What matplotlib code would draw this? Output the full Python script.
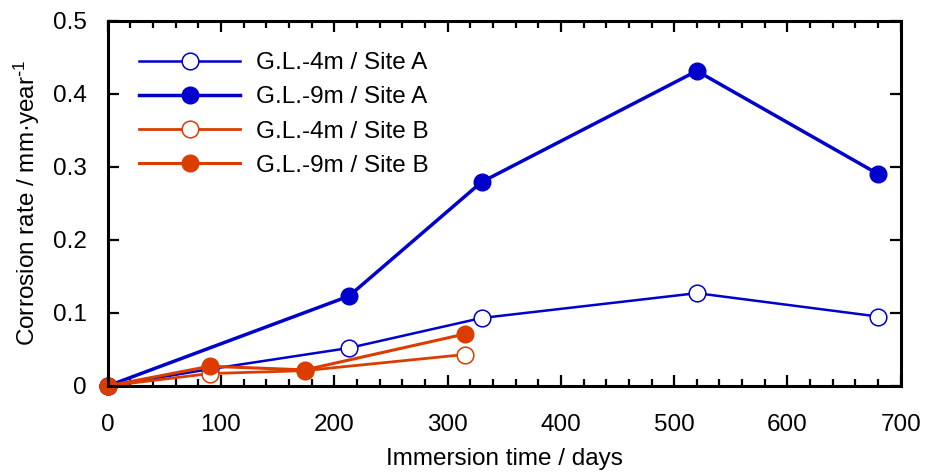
import matplotlib.pyplot as plt
from matplotlib.ticker import MultipleLocator
import numpy as np

plt.rcParams['font.family'] = ['Liberation Sans', 'DejaVu Sans']
plt.rcParams['mathtext.default'] = 'regular'

# immersion time (days) and corrosion rate (mm/year)
days_a = [0, 90, 213, 330, 520, 680]
rate_a_4m = [0, 0.023, 0.052, 0.093, 0.127, 0.095]
days_a9 = [0, 213, 330, 520, 680]
rate_a_9m = [0, 0.123, 0.279, 0.431, 0.290]

days_b = [0, 90, 174, 315]
rate_b_4m = [0, 0.017, 0.021, 0.043]
rate_b_9m = [0, 0.027, 0.022, 0.071]

blue = '#0000CC'
orange = '#DB3D00'
fs = 17.5

fig = plt.figure(figsize=(9.25, 4.75), dpi=100)
ax = fig.add_axes([0.1164, 0.1874, 0.8574, 0.7694])

ax.plot(days_a, rate_a_4m, '-o', color=blue, lw=1.8, ms=12,
        mfc='white', mec=blue, mew=1.1, label='G.L.-4m / Site A', clip_on=False)
ax.plot(days_a9, rate_a_9m, '-o', color=blue, lw=2.5, ms=12,
        mfc=blue, mec=blue, label='G.L.-9m / Site A', clip_on=False)
ax.plot(days_b, rate_b_4m, '-o', color=orange, lw=2.0, ms=12,
        mfc='white', mec=orange, mew=1.1, label='G.L.-4m / Site B', clip_on=False)
ax.plot(days_b, rate_b_9m, '-o', color=orange, lw=2.2, ms=12,
        mfc=orange, mec=orange, label='G.L.-9m / Site B', clip_on=False)

ax.set_xlim(0, 700)
ax.set_ylim(0, 0.5)
ax.xaxis.set_major_locator(MultipleLocator(100))
ax.xaxis.set_minor_locator(MultipleLocator(20))
ax.set_yticks(np.arange(0, 0.51, 0.1))
ax.set_yticklabels(['0', '0.1', '0.2', '0.3', '0.4', '0.5'])

for s in ax.spines.values():
    s.set_linewidth(2.2)
ax.tick_params(which='both', direction='in', top=True, right=True,
               labelsize=fs, width=1.6)
ax.tick_params(which='major', length=8)
ax.tick_params(which='minor', length=5)
ax.tick_params(axis='x', which='major', pad=20)
ax.tick_params(axis='y', which='major', pad=15)

ax.set_xlabel('Immersion time / days', fontsize=fs, labelpad=9)
ax.set_ylabel('Corrosion rate / mm·year$^{\\text{-}1}$', fontsize=fs, labelpad=8)

leg = ax.legend(loc='upper left', frameon=False, fontsize=fs, handlelength=4.15,
                handletextpad=0.66, labelspacing=0.5, borderaxespad=0.0,
                borderpad=0.0, bbox_to_anchor=(0.04, 0.913))

fig.savefig('out.png', dpi=100)
